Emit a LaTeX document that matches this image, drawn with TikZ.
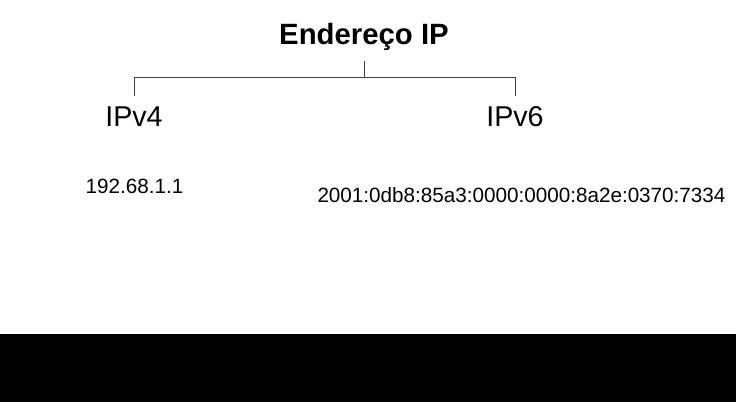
\documentclass[tikz,border=0pt]{standalone}
\usepackage{fontspec}
\setmainfont{Liberation Sans}
\usetikzlibrary{calc}

\begin{document}
\begin{tikzpicture}[x=0.75pt,y=-0.75pt,
    title/.style={font=\bfseries\fontsize{22}{26}\selectfont,anchor=base,inner sep=0pt},
    kind/.style={font=\fontsize{21.5}{25}\selectfont,anchor=base,inner sep=0pt},
    sample/.style={font=\fontsize{15.5}{18}\selectfont,anchor=base,inner sep=0pt},
    branch/.style={draw=black!75,line width=0.75pt}]
\useasboundingbox (0,0) rectangle (736,402);
% Black band
\fill[black] (0,334) rectangle (736,402);
% Coordinates
\coordinate (top) at (364,61);
\coordinate (mid) at (364,78);
\coordinate (left) at (134,78);
\coordinate (right) at (515,78);
\coordinate (lend) at (134,96);
\coordinate (rend) at (515,96);
% Labels
\node[title]  (ip)   at (364,45)  {Endereço IP};
\node[kind]   (v4)   at (134,127) {IPv4};
\node[kind]   (v6)   at (515,127) {IPv6};
\node[sample] (ex4)  at (134.5,194) {192.68.1.1};
\node[sample] (ex6)  at (521.5,203) {2001:0db8:85a3:0000:0000:8a2e:0370:7334};
% Draw bracket
\draw[branch] (top) -- (mid);
\draw[branch] (lend) -- (left) -- (right) -- (rend);
\end{tikzpicture}
\end{document}
